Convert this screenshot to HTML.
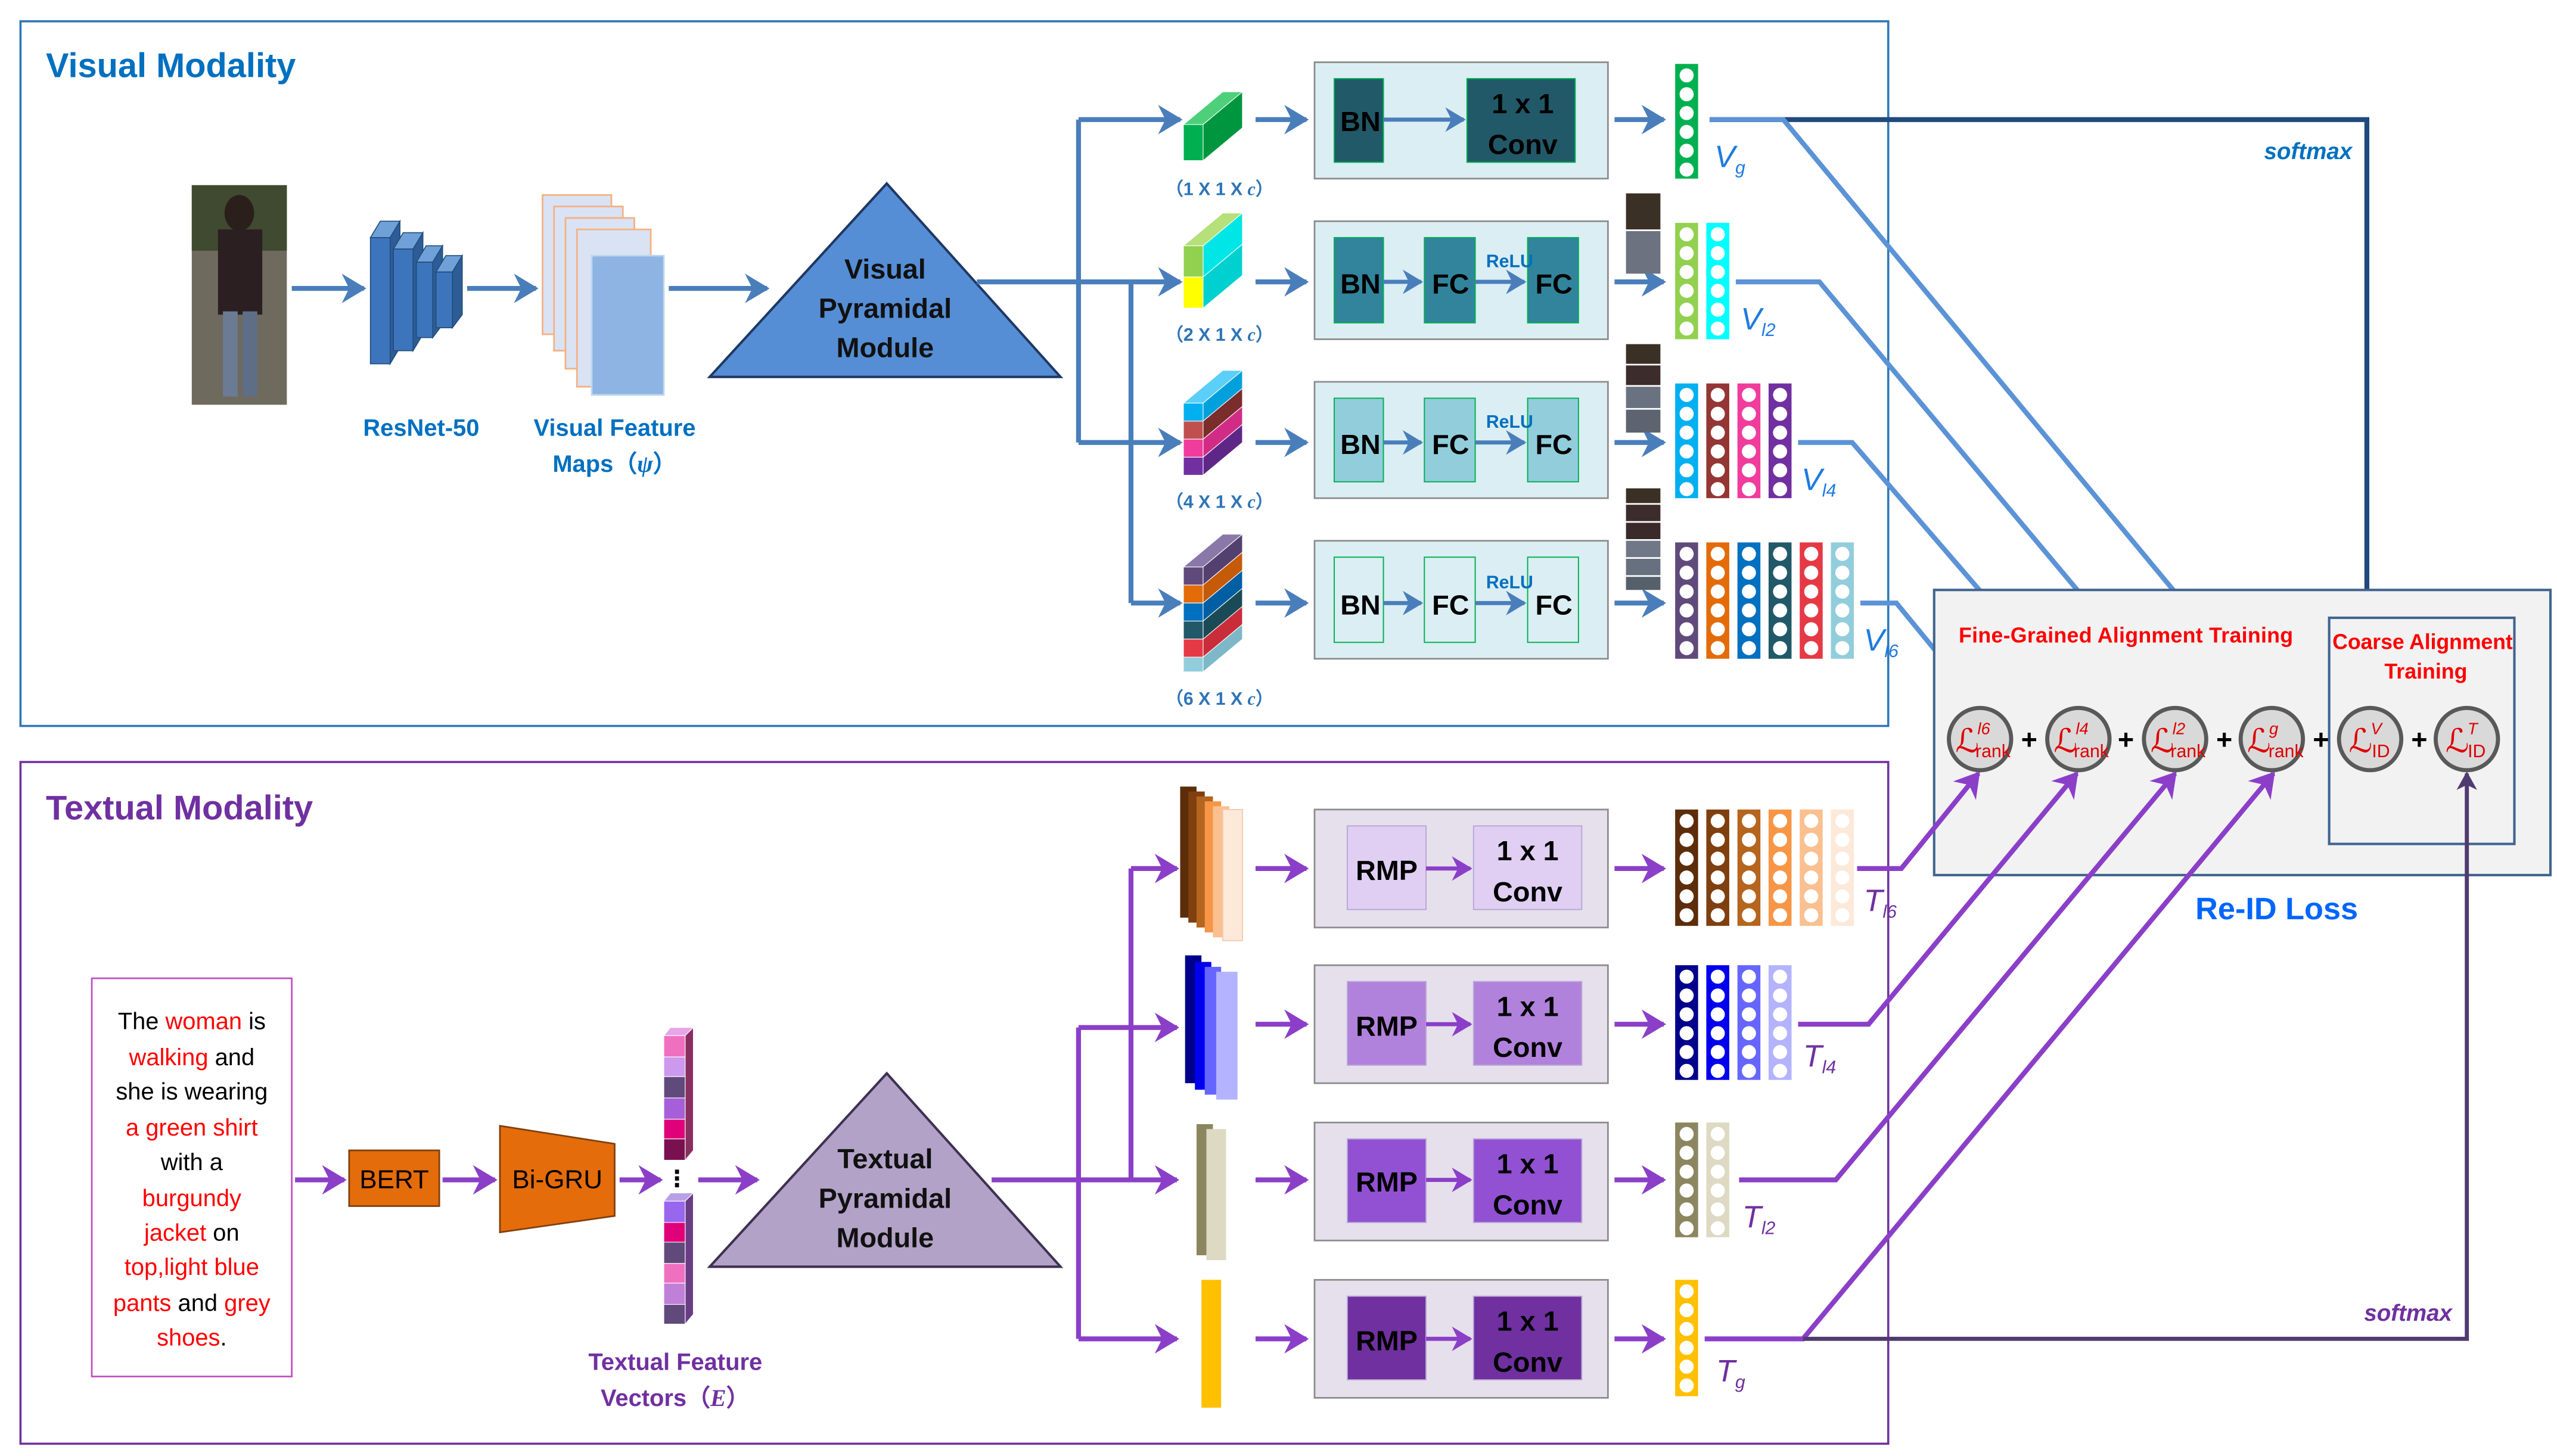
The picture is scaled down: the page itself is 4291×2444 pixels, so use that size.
<!DOCTYPE html>
<html><head><meta charset="utf-8"><style>
html,body{margin:0;padding:0;background:#fff}
svg{display:block}
text{font-family:"Liberation Sans","DejaVu Sans",sans-serif}
.b{font-weight:bold}
.m{font-family:"Liberation Serif",serif;font-style:italic}
</style></head><body>
<svg width="4291" height="2444" viewBox="0 0 1560 888.5" preserveAspectRatio="none" xmlns="http://www.w3.org/2000/svg">
<defs>
<marker id="ab" markerWidth="6" markerHeight="6" refX="4.5" refY="3" orient="auto" markerUnits="strokeWidth"><path d="M0,0 L5,3 L0,6 L1.5,3z" fill="#4a7ebb"/></marker>
<marker id="al" markerWidth="6" markerHeight="6" refX="4.5" refY="3" orient="auto" markerUnits="strokeWidth"><path d="M0,0 L5,3 L0,6 L1.5,3z" fill="#5b93d6"/></marker>
<marker id="ap" markerWidth="6" markerHeight="6" refX="4.5" refY="3" orient="auto" markerUnits="strokeWidth"><path d="M0,0 L5,3 L0,6 L1.5,3z" fill="#8b3fc8"/></marker>
<marker id="ad" markerWidth="5" markerHeight="5" refX="4" refY="2.5" orient="auto" markerUnits="strokeWidth"><path d="M0,0 L4.5,2.5 L0,5 L1.2,2.5z" fill="#1f497d"/></marker>
<marker id="aq" markerWidth="5" markerHeight="5" refX="4" refY="2.5" orient="auto" markerUnits="strokeWidth"><path d="M0,0 L4.5,2.5 L0,5 L1.2,2.5z" fill="#4f3b70"/></marker>
</defs>

<rect x="12.5" y="13" width="1139.5" height="430" fill="none" stroke="#2e75b6" stroke-width="1.3"/>
<rect x="12.5" y="465" width="1139.5" height="416" fill="none" stroke="#7030a0" stroke-width="1.3"/>
<text x="28" y="47" class="b" font-size="21" fill="#0070c0">Visual Modality</text>
<text x="28" y="500" class="b" font-size="21" fill="#7030a0">Textual Modality</text>

<rect x="117" y="113" width="58" height="134" fill="#6f6a5e"/>
<rect x="117" y="113" width="58" height="40" fill="#3f4a30"/>
<ellipse cx="146" cy="130" rx="9" ry="11" fill="#2a1f1a"/>
<rect x="133" y="140" width="27" height="52" fill="#2b1f22"/>
<rect x="136" y="190" width="9" height="52" fill="#6a7b93"/><rect x="148" y="190" width="9" height="52" fill="#5e6e87"/>
<line x1="178" y1="176" x2="222" y2="176" stroke="#4a7ebb" stroke-width="3" marker-end="url(#ab)"/>

<g stroke="#1f4e79" stroke-width="0.6">
<polygon points="226,145 238,145 244,135 232,135" fill="#6fa0d8"/><polygon points="238,145 244,135 244,212 238,222" fill="#2e5c97"/><rect x="226" y="145" width="12" height="77" fill="#3d75bd"/>
<polygon points="240,152 252,152 258,142 246,142" fill="#6fa0d8"/><polygon points="252,152 258,142 258,204 252,214" fill="#2e5c97"/><rect x="240" y="152" width="12" height="62" fill="#3d75bd"/>
<polygon points="254,160 264,160 270,150 260,150" fill="#6fa0d8"/><polygon points="264,160 270,150 270,198 264,206" fill="#2e5c97"/><rect x="254" y="160" width="10" height="46" fill="#3d75bd"/>
<polygon points="266,166 276,166 282,156 272,156" fill="#6fa0d8"/><polygon points="276,166 282,156 282,192 276,200" fill="#2e5c97"/><rect x="266" y="166" width="10" height="34" fill="#3d75bd"/>
</g>
<text x="257" y="266" text-anchor="middle" class="b" font-size="14.5" fill="#0070c0">ResNet-50</text>
<line x1="285" y1="176" x2="327" y2="176" stroke="#4a7ebb" stroke-width="3" marker-end="url(#ab)"/>

<g stroke="#f4b183" stroke-width="1">
<rect x="331" y="119" width="42" height="85" fill="#dae3f3"/>
<rect x="338" y="126" width="42" height="88" fill="#dae3f3"/>
<rect x="345" y="133" width="42" height="92" fill="#dae3f3"/>
<rect x="352" y="140" width="45" height="96" fill="#dae3f3"/>
<rect x="361" y="156" width="44" height="85" fill="#8eb4e3" stroke="#bdd7ee"/>
</g>
<text x="375" y="266" text-anchor="middle" class="b" font-size="14.5" fill="#0070c0">Visual Feature</text>
<text x="375" y="288" text-anchor="middle" class="b" font-size="14.5" fill="#0070c0">Maps（<tspan class="m">ψ</tspan>）</text>
<line x1="408" y1="176" x2="468" y2="176" stroke="#4a7ebb" stroke-width="3" marker-end="url(#ab)"/>

<polygon points="541,112 433,230 647,230" fill="#558ed5" stroke="#1f3864" stroke-width="1.5"/>
<text x="540" y="170" text-anchor="middle" class="b" font-size="17" fill="#111">Visual</text>
<text x="540" y="194" text-anchor="middle" class="b" font-size="17" fill="#111">Pyramidal</text>
<text x="540" y="218" text-anchor="middle" class="b" font-size="17" fill="#111">Module</text>

<g stroke="#4a7ebb" stroke-width="3" fill="none">
<polyline points="596,172 690,172"/>
<line x1="658" y1="73" x2="658" y2="270"/>
<line x1="690" y1="172" x2="690" y2="368"/>
<line x1="658" y1="73" x2="720" y2="73" marker-end="url(#ab)"/>
<line x1="690" y1="172" x2="720" y2="172" marker-end="url(#ab)"/>
<line x1="658" y1="270" x2="720" y2="270" marker-end="url(#ab)"/>
<line x1="690" y1="368" x2="720" y2="368" marker-end="url(#ab)"/>
<line x1="766" y1="73" x2="797" y2="73" marker-end="url(#ab)"/>
<line x1="766" y1="172" x2="797" y2="172" marker-end="url(#ab)"/>
<line x1="766" y1="270" x2="797" y2="270" marker-end="url(#ab)"/>
<line x1="766" y1="368" x2="797" y2="368" marker-end="url(#ab)"/>
<line x1="985" y1="73" x2="1015" y2="73" marker-end="url(#ab)"/>
<line x1="985" y1="172" x2="1015" y2="172" marker-end="url(#ab)"/>
<line x1="985" y1="270" x2="1015" y2="270" marker-end="url(#ab)"/>
<line x1="985" y1="368" x2="1015" y2="368" marker-end="url(#ab)"/>
</g>

<g stroke="#fff" stroke-width="0.4">
<polygon points="722,76 746,56 758,56 734,76" fill="#4ed07a"/>
<polygon points="734,76 758,56 758,78 734,98" fill="#009640"/>
<rect x="722" y="76" width="12" height="22" fill="#00b050"/>
<polygon points="722,150 746,130 758,130 734,150" fill="#b6e07a"/>
<polygon points="734,150 758,130 758,149 734,169" fill="#00e6e6"/>
<polygon points="734,169 758,149 758,168 734,188" fill="#00d0d0"/>
<rect x="722" y="150" width="12" height="19" fill="#92d050"/><rect x="722" y="169" width="12" height="19" fill="#ffff00"/>
<polygon points="722,246 746,226 758,226 734,246" fill="#5ccff8"/>
<polygon points="734,246 758,226 758,237 734,257" fill="#00a0dc"/>
<polygon points="734,257 758,237 758,248 734,268" fill="#7a2d2b"/>
<polygon points="734,268 758,248 758,259 734,279" fill="#d02c86"/>
<polygon points="734,279 758,259 758,270 734,290" fill="#5e2787"/>
<rect x="722" y="246" width="12" height="11" fill="#00b0f0"/><rect x="722" y="257" width="12" height="11" fill="#c0504d"/><rect x="722" y="268" width="12" height="11" fill="#f03c9c"/><rect x="722" y="279" width="12" height="11" fill="#7030a0"/>
<polygon points="722,346 746,326 758,326 734,346" fill="#8a78a8"/>
<polygon points="734,346 758,326 758,337 734,357" fill="#54406e"/>
<polygon points="734,357 758,337 758,348 734,368" fill="#c55a08"/>
<polygon points="734,368 758,348 758,359 734,379" fill="#005ea3"/>
<polygon points="734,379 758,359 758,370 734,390" fill="#1b4a57"/>
<polygon points="734,390 758,370 758,381 734,401" fill="#c92d3a"/>
<polygon points="734,401 758,381 758,390 734,410" fill="#7cb8c8"/>
<rect x="722" y="346" width="12" height="11" fill="#604a7b"/><rect x="722" y="357" width="12" height="11" fill="#e36c09"/><rect x="722" y="368" width="12" height="11" fill="#0070c0"/><rect x="722" y="379" width="12" height="11" fill="#215968"/><rect x="722" y="390" width="12" height="11" fill="#e63946"/><rect x="722" y="401" width="12" height="9" fill="#92cddc"/>
</g>
<g font-size="11" fill="#2e75b6" text-anchor="middle" class="b">
<text x="744" y="119">（1 X 1 X <tspan class="m">c</tspan>）</text>
<text x="744" y="208">（2 X 1 X <tspan class="m">c</tspan>）</text>
<text x="744" y="310">（4 X 1 X <tspan class="m">c</tspan>）</text>
<text x="744" y="430">（6 X 1 X <tspan class="m">c</tspan>）</text>
</g>

<g stroke="#8c8c8c" stroke-width="1" fill="#dbeef3">
<rect x="802" y="38" width="179" height="71"/>
<rect x="802" y="135" width="179" height="72"/>
<rect x="802" y="233" width="179" height="71"/>
<rect x="802" y="330" width="179" height="72"/>
</g>
<g stroke="#00b050" stroke-width="0.7">
<rect x="814" y="48" width="30" height="51" fill="#215968"/><rect x="895" y="48" width="66" height="51" fill="#215968"/>
<rect x="814" y="145" width="30" height="52" fill="#31849b"/><rect x="869" y="145" width="31" height="52" fill="#31849b"/><rect x="932" y="145" width="31" height="52" fill="#31849b"/>
<rect x="814" y="243" width="30" height="51" fill="#92cddc"/><rect x="869" y="243" width="31" height="51" fill="#92cddc"/><rect x="932" y="243" width="31" height="51" fill="#92cddc"/>
<rect x="814" y="340" width="30" height="52" fill="#dbeef3"/><rect x="869" y="340" width="31" height="52" fill="#dbeef3"/><rect x="932" y="340" width="31" height="52" fill="#dbeef3"/>
</g>
<g stroke="#4a7ebb" stroke-width="2.5">
<line x1="844" y1="73" x2="893" y2="73" marker-end="url(#ab)"/>
<line x1="844" y1="172" x2="867" y2="172" marker-end="url(#ab)"/><line x1="900" y1="172" x2="930" y2="172" marker-end="url(#ab)"/>
<line x1="844" y1="270" x2="867" y2="270" marker-end="url(#ab)"/><line x1="900" y1="270" x2="930" y2="270" marker-end="url(#ab)"/>
<line x1="844" y1="368" x2="867" y2="368" marker-end="url(#ab)"/><line x1="900" y1="368" x2="930" y2="368" marker-end="url(#ab)"/>
</g>
<g class="b" font-size="17" fill="#000" text-anchor="middle">
<text x="830" y="80">BN</text><text x="929" y="69">1 x 1</text><text x="929" y="94">Conv</text>
<text x="830" y="179">BN</text><text x="885" y="179">FC</text><text x="948" y="179">FC</text>
<text x="830" y="277">BN</text><text x="885" y="277">FC</text><text x="948" y="277">FC</text>
<text x="830" y="375">BN</text><text x="885" y="375">FC</text><text x="948" y="375">FC</text>
</g>
<g class="b" font-size="11" fill="#0070c0" text-anchor="middle">
<text x="921" y="163">ReLU</text><text x="921" y="261">ReLU</text><text x="921" y="359">ReLU</text>
</g>

<g>
<rect x="992" y="118" width="21" height="22" fill="#3b3026"/><rect x="992" y="141" width="21" height="26" fill="#6c7280"/>
<rect x="992" y="210" width="21" height="12" fill="#3b3026"/><rect x="992" y="223" width="21" height="12" fill="#3d2c2c"/><rect x="992" y="236" width="21" height="13" fill="#6a7282"/><rect x="992" y="250" width="21" height="14" fill="#5d6470"/>
<rect x="992" y="298" width="21" height="9" fill="#3b3026"/><rect x="992" y="308" width="21" height="10" fill="#3d2c2c"/><rect x="992" y="319" width="21" height="10" fill="#3a2a2a"/><rect x="992" y="330" width="21" height="10" fill="#707887"/><rect x="992" y="341" width="21" height="10" fill="#66707e"/><rect x="992" y="352" width="21" height="8" fill="#55606b"/>
</g>

<rect x="1022" y="39" width="14" height="70" fill="#00b050"/>
<rect x="1022" y="136" width="14" height="71" fill="#92d050"/><rect x="1041" y="136" width="14" height="71" fill="#00ffff"/>
<rect x="1022" y="234" width="14" height="70" fill="#00b0f0"/><rect x="1041" y="234" width="14" height="70" fill="#943634"/><rect x="1060" y="234" width="14" height="70" fill="#f03c9c"/><rect x="1079" y="234" width="14" height="70" fill="#7030a0"/>
<rect x="1022" y="331" width="14" height="71" fill="#604a7b"/><rect x="1041" y="331" width="14" height="71" fill="#e36c09"/><rect x="1060" y="331" width="14" height="71" fill="#0070c0"/><rect x="1079" y="331" width="14" height="71" fill="#215968"/><rect x="1098" y="331" width="14" height="71" fill="#e63946"/><rect x="1117" y="331" width="14" height="71" fill="#92cddc"/>
<g class="m" fill="#1e7be0">
<text x="1046" y="102" font-size="19">V<tspan font-size="11" dy="4">g</tspan></text>
<text x="1062" y="201" font-size="19">V<tspan font-size="11" dy="4">l2</tspan></text>
<text x="1099" y="299" font-size="19">V<tspan font-size="11" dy="4">l4</tspan></text>
<text x="1137" y="397" font-size="19">V<tspan font-size="11" dy="4">l6</tspan></text>
</g>

<polyline points="1043,73 1444,73 1444,432" fill="none" stroke="#1f497d" stroke-width="3" marker-end="url(#ad)"/>
<g stroke="#5b93d6" stroke-width="3" fill="none">
<polyline points="1043,73 1088,73 1383,429" marker-end="url(#al)"/>
<polyline points="1059,172 1110,172 1325,429" marker-end="url(#al)"/>
<polyline points="1097,270 1130,270 1267,429" marker-end="url(#al)"/>
<polyline points="1135,368 1157,368 1207,429" marker-end="url(#al)"/>
</g>
<text x="1435" y="97" text-anchor="end" class="b" font-style="italic" font-size="14" fill="#0070c0">softmax</text>

<rect x="56" y="597" width="122" height="243" fill="#fff" stroke="#c050c0" stroke-width="1"/>
<g font-size="14.5" text-anchor="middle" fill="#000">
<text x="117" y="628">The <tspan fill="#ff0000">woman</tspan> is</text>
<text x="117" y="650"><tspan fill="#ff0000">walking</tspan> and</text>
<text x="117" y="671">she is wearing</text>
<text x="117" y="693" fill="#ff0000">a green shirt</text>
<text x="117" y="714">with a</text>
<text x="117" y="736" fill="#ff0000">burgundy</text>
<text x="117" y="757"><tspan fill="#ff0000">jacket</tspan> on</text>
<text x="117" y="778" fill="#ff0000">top,light blue</text>
<text x="117" y="800"><tspan fill="#ff0000">pants</tspan> and <tspan fill="#ff0000">grey</tspan></text>
<text x="117" y="821"><tspan fill="#ff0000">shoes</tspan>.</text>
</g>
<g stroke="#8b3fc8" stroke-width="3" fill="none">
<line x1="180" y1="720" x2="210" y2="720" marker-end="url(#ap)"/>
<line x1="270" y1="720" x2="302" y2="720" marker-end="url(#ap)"/>
<line x1="378" y1="720" x2="403" y2="720" marker-end="url(#ap)"/>
<line x1="426" y1="720" x2="462" y2="720" marker-end="url(#ap)"/>
</g>
<rect x="213" y="702" width="55" height="34" fill="#e46c0a" stroke="#7f3f0f" stroke-width="1"/>
<text x="240.5" y="725" text-anchor="middle" font-size="16" fill="#000">BERT</text>
<polygon points="305,687 375,698 375,742 305,752" fill="#e46c0a" stroke="#7f3f0f" stroke-width="1"/>
<text x="340" y="725" text-anchor="middle" font-size="16" fill="#000">Bi-GRU</text>
<g stroke="#fff" stroke-width="0.4">
<polygon points="405,632 409,627 423,627 418,632" fill="#e7a6e7"/><polygon points="418,632 423,627 423,702 418,708" fill="#8a2d5f"/>
<rect x="405" y="632" width="13" height="13" fill="#f070c0"/><rect x="405" y="645" width="13" height="12" fill="#cc99ee"/><rect x="405" y="657" width="13" height="13" fill="#604a7b"/><rect x="405" y="670" width="13" height="13" fill="#a65fd8"/><rect x="405" y="683" width="13" height="12" fill="#e0007a"/><rect x="405" y="695" width="13" height="13" fill="#7a1050"/>
<polygon points="405,733 409,728 423,728 418,733" fill="#b9a0e6"/><polygon points="418,733 423,728 423,802 418,808" fill="#6b3c86"/>
<rect x="405" y="733" width="13" height="13" fill="#9966ee"/><rect x="405" y="746" width="13" height="12" fill="#e0007a"/><rect x="405" y="758" width="13" height="13" fill="#604a7b"/><rect x="405" y="771" width="13" height="12" fill="#f070c0"/><rect x="405" y="783" width="13" height="13" fill="#c080d8"/><rect x="405" y="796" width="13" height="12" fill="#604a7b"/>
</g>
<text x="413" y="724" text-anchor="middle" font-size="14" class="b">⋮</text>
<text x="412" y="836" text-anchor="middle" class="b" font-size="14.5" fill="#7030a0">Textual Feature</text>
<text x="412" y="858" text-anchor="middle" class="b" font-size="14.5" fill="#7030a0">Vectors（<tspan class="m">E</tspan>）</text>

<polygon points="541,655 433,773 647,773" fill="#b3a2c7" stroke="#3f3151" stroke-width="1.5"/>
<text x="540" y="713" text-anchor="middle" class="b" font-size="17" fill="#111">Textual</text>
<text x="540" y="737" text-anchor="middle" class="b" font-size="17" fill="#111">Pyramidal</text>
<text x="540" y="761" text-anchor="middle" class="b" font-size="17" fill="#111">Module</text>

<g stroke="#8b3fc8" stroke-width="3" fill="none">
<line x1="605" y1="720" x2="690" y2="720"/>
<line x1="658" y1="627" x2="658" y2="817"/>
<line x1="690" y1="530" x2="690" y2="720"/>
<line x1="690" y1="530" x2="718" y2="530" marker-end="url(#ap)"/>
<line x1="658" y1="627" x2="718" y2="627" marker-end="url(#ap)"/>
<line x1="690" y1="720" x2="718" y2="720" marker-end="url(#ap)"/>
<line x1="658" y1="817" x2="718" y2="817" marker-end="url(#ap)"/>
<line x1="766" y1="530" x2="797" y2="530" marker-end="url(#ap)"/>
<line x1="766" y1="625" x2="797" y2="625" marker-end="url(#ap)"/>
<line x1="766" y1="720" x2="797" y2="720" marker-end="url(#ap)"/>
<line x1="766" y1="817" x2="797" y2="817" marker-end="url(#ap)"/>
<line x1="985" y1="530" x2="1015" y2="530" marker-end="url(#ap)"/>
<line x1="985" y1="625" x2="1015" y2="625" marker-end="url(#ap)"/>
<line x1="985" y1="720" x2="1015" y2="720" marker-end="url(#ap)"/>
<line x1="985" y1="817" x2="1015" y2="817" marker-end="url(#ap)"/>
</g>

<rect x="720" y="480" width="10" height="80" fill="#5c2d0a"/>
<rect x="725" y="483" width="10" height="80" fill="#7f3f0f"/>
<rect x="730" y="486" width="10" height="80" fill="#b5651d"/>
<rect x="735" y="489" width="10" height="80" fill="#f79646"/>
<rect x="740" y="492" width="10" height="80" fill="#fac090"/>
<rect x="746" y="494" width="12" height="80" fill="#fde9d9" stroke="#f5c7a8" stroke-width="0.6"/>
<rect x="723" y="583" width="10" height="78" fill="#00008b"/>
<rect x="729" y="587" width="10" height="78" fill="#0000ee"/>
<rect x="735" y="590" width="10" height="78" fill="#6666ff"/>
<rect x="742" y="593" width="13" height="78" fill="#b3b3ff"/>
<rect x="730" y="686" width="10" height="80" fill="#8b8660"/>
<rect x="736" y="689" width="12" height="80" fill="#ddd9c3"/>
<rect x="733" y="781" width="12" height="78" fill="#ffc000"/>

<g stroke="#8c8c8c" stroke-width="1" fill="#e5e0ec">
<rect x="802" y="494" width="179" height="72"/>
<rect x="802" y="589" width="179" height="72"/>
<rect x="802" y="685" width="179" height="72"/>
<rect x="802" y="781" width="179" height="72"/>
</g>
<g stroke="#b9a6d6" stroke-width="0.7">
<rect x="822" y="504" width="48" height="51" fill="#e0cff3"/><rect x="899" y="504" width="66" height="51" fill="#e0cff3"/>
<rect x="822" y="599" width="48" height="51" fill="#b182dc"/><rect x="899" y="599" width="66" height="51" fill="#b182dc"/>
<rect x="822" y="695" width="48" height="51" fill="#9251d3"/><rect x="899" y="695" width="66" height="51" fill="#9251d3"/>
<rect x="822" y="791" width="48" height="51" fill="#7030a0"/><rect x="899" y="791" width="66" height="51" fill="#7030a0"/>
</g>
<g stroke="#8b3fc8" stroke-width="2.5">
<line x1="870" y1="530" x2="897" y2="530" marker-end="url(#ap)"/>
<line x1="870" y1="625" x2="897" y2="625" marker-end="url(#ap)"/>
<line x1="870" y1="720" x2="897" y2="720" marker-end="url(#ap)"/>
<line x1="870" y1="817" x2="897" y2="817" marker-end="url(#ap)"/>
</g>
<g class="b" font-size="17" fill="#000" text-anchor="middle">
<text x="846" y="537">RMP</text><text x="932" y="525">1 x 1</text><text x="932" y="550">Conv</text>
<text x="846" y="632">RMP</text><text x="932" y="620">1 x 1</text><text x="932" y="645">Conv</text>
<text x="846" y="727">RMP</text><text x="932" y="716">1 x 1</text><text x="932" y="741">Conv</text>
<text x="846" y="824">RMP</text><text x="932" y="812">1 x 1</text><text x="932" y="837">Conv</text>
</g>

<rect x="1022" y="494" width="14" height="71" fill="#5c2d0a"/><rect x="1041" y="494" width="14" height="71" fill="#7f3f0f"/><rect x="1060" y="494" width="14" height="71" fill="#b5651d"/><rect x="1079" y="494" width="14" height="71" fill="#f79646"/><rect x="1098" y="494" width="14" height="71" fill="#fac090"/><rect x="1117" y="494" width="14" height="71" fill="#fde9d9"/>
<rect x="1022" y="589" width="14" height="70" fill="#00008b"/><rect x="1041" y="589" width="14" height="70" fill="#0000ee"/><rect x="1060" y="589" width="14" height="70" fill="#6666ff"/><rect x="1079" y="589" width="14" height="70" fill="#b3b3ff"/>
<rect x="1022" y="685" width="14" height="70" fill="#8b8660"/><rect x="1041" y="685" width="14" height="70" fill="#ddd9c3"/>
<rect x="1022" y="781" width="14" height="71" fill="#ffc000"/>

<g class="m" fill="#7030a0">
<text x="1137" y="556" font-size="19">T<tspan font-size="11" dy="4">l6</tspan></text>
<text x="1100" y="651" font-size="19">T<tspan font-size="11" dy="4">l4</tspan></text>
<text x="1063" y="749" font-size="19">T<tspan font-size="11" dy="4">l2</tspan></text>
<text x="1047" y="843" font-size="19">T<tspan font-size="11" dy="4">g</tspan></text>
</g>

<rect x="1180" y="360" width="376" height="174" fill="#f2f2f2" stroke="#41648f" stroke-width="1.5"/>
<rect x="1421" y="377" width="113" height="138" fill="none" stroke="#41648f" stroke-width="1.5"/>
<text x="1297" y="392" text-anchor="middle" class="b" font-size="13" fill="#ff0000" textLength="204">Fine-Grained Alignment Training</text>
<text x="1478" y="396" text-anchor="middle" class="b" font-size="13" fill="#ff0000" textLength="110">Coarse Alignment</text>
<text x="1480" y="414" text-anchor="middle" class="b" font-size="13" fill="#ff0000">Training</text>
<text x="1389" y="561" text-anchor="middle" class="b" font-size="19" fill="#0066ff">Re-ID Loss</text>

<g stroke="#8b3fc8" stroke-width="3" fill="none">
<polyline points="1133,530 1160,530 1207,472" marker-end="url(#ap)"/>
<polyline points="1097,625 1140,625 1267,472" marker-end="url(#ap)"/>
<polyline points="1061,720 1120,720 1327,472" marker-end="url(#ap)"/>
<polyline points="1040,817 1100,817 1387,472" marker-end="url(#ap)"/>
</g>
<polyline points="1100,817 1505,817 1505,472" fill="none" stroke="#4f3b70" stroke-width="2.5" marker-end="url(#aq)"/>
<text x="1496" y="806" text-anchor="end" class="b" font-style="italic" font-size="14" fill="#7030a0">softmax</text>

<g fill="#d9d9d9" stroke="#595959" stroke-width="2.5">
<circle cx="1208" cy="451" r="19"/><circle cx="1268" cy="451" r="19"/><circle cx="1327" cy="451" r="19"/><circle cx="1386" cy="451" r="19"/><circle cx="1446" cy="451" r="19"/><circle cx="1505" cy="451" r="19"/>
</g>
<g class="b" font-size="17" fill="#000" text-anchor="middle">
<text x="1238" y="457">+</text><text x="1297" y="457">+</text><text x="1357" y="457">+</text><text x="1416" y="457">+</text><text x="1476" y="457">+</text>
</g>
<g fill="#e00000" font-family="Liberation Serif,serif" font-style="italic">
<text x="1193" y="459" font-size="20">ℒ<tspan font-size="10" dx="-1" dy="-11">l6</tspan><tspan font-size="11" dx="-9" dy="14" font-style="normal">rank</tspan></text>
<text x="1253" y="459" font-size="20">ℒ<tspan font-size="10" dx="-1" dy="-11">l4</tspan><tspan font-size="11" dx="-9" dy="14" font-style="normal">rank</tspan></text>
<text x="1312" y="459" font-size="20">ℒ<tspan font-size="10" dx="-1" dy="-11">l2</tspan><tspan font-size="11" dx="-9" dy="14" font-style="normal">rank</tspan></text>
<text x="1371" y="459" font-size="20">ℒ<tspan font-size="10" dx="-1" dy="-11">g</tspan><tspan font-size="11" dx="-6" dy="14" font-style="normal">rank</tspan></text>
<text x="1433" y="459" font-size="20">ℒ<tspan font-size="10" dx="-1" dy="-11">V</tspan><tspan font-size="11" dx="-6" dy="14" font-style="normal">ID</tspan></text>
<text x="1492" y="459" font-size="20">ℒ<tspan font-size="10" dx="-1" dy="-11">T</tspan><tspan font-size="11" dx="-6" dy="14" font-style="normal">ID</tspan></text>
</g>

<g fill="#fff">
<g id="col"><circle cx="0" cy="0" r="4.3"/><circle cx="0" cy="11.5" r="4.3"/><circle cx="0" cy="23" r="4.3"/><circle cx="0" cy="34.5" r="4.3"/><circle cx="0" cy="46" r="4.3"/><circle cx="0" cy="57.5" r="4.3"/></g>
</g>
<g fill="#fff">
<use href="#col" x="1029" y="46"/>
<use href="#col" x="1029" y="143"/><use href="#col" x="1048" y="143"/>
<use href="#col" x="1029" y="241"/><use href="#col" x="1048" y="241"/><use href="#col" x="1067" y="241"/><use href="#col" x="1086" y="241"/>
<use href="#col" x="1029" y="338"/><use href="#col" x="1048" y="338"/><use href="#col" x="1067" y="338"/><use href="#col" x="1086" y="338"/><use href="#col" x="1105" y="338"/><use href="#col" x="1124" y="338"/>
<use href="#col" x="1029" y="501"/><use href="#col" x="1048" y="501"/><use href="#col" x="1067" y="501"/><use href="#col" x="1086" y="501"/><use href="#col" x="1105" y="501"/><use href="#col" x="1124" y="501"/>
<use href="#col" x="1029" y="596"/><use href="#col" x="1048" y="596"/><use href="#col" x="1067" y="596"/><use href="#col" x="1086" y="596"/>
<use href="#col" x="1029" y="692"/><use href="#col" x="1048" y="692"/>
<use href="#col" x="1029" y="788"/>
</g>
</svg>
</body></html>
